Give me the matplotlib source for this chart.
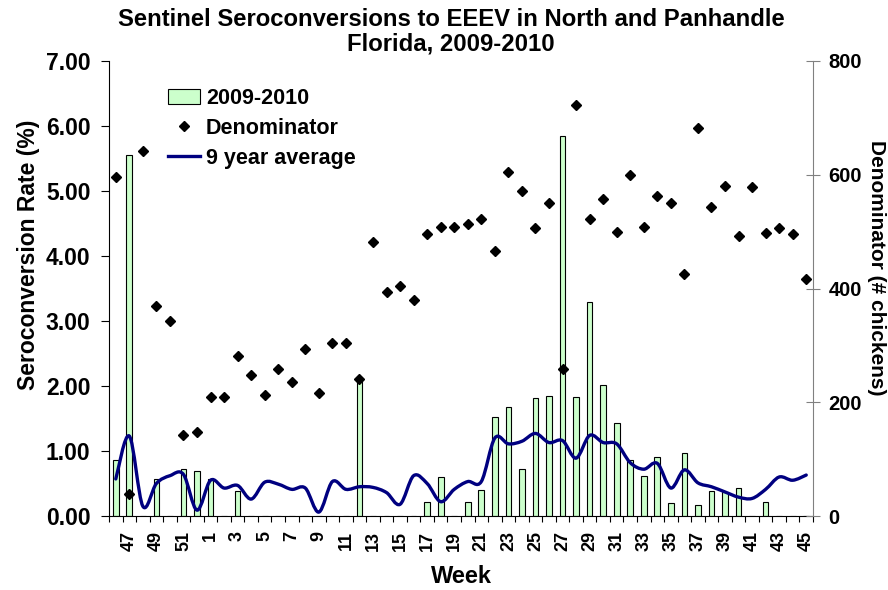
import matplotlib
matplotlib.use("Agg")
import matplotlib.pyplot as plt
from matplotlib.path import Path
from matplotlib.patches import PathPatch, Patch
from matplotlib.lines import Line2D

plt.rcParams['font.family'] = ['Liberation Sans', 'DejaVu Sans']
plt.rcParams['font.weight'] = 'bold'

WEEKS = [46, 47, 48, 49, 50, 51, 52, 1, 2, 3, 4, 5, 6, 7, 8, 9, 10, 11, 12, 13,
         14, 15, 16, 17, 18, 19, 20, 21, 22, 23, 24, 25, 26, 27, 28, 29, 30, 31,
         32, 33, 34, 35, 36, 37, 38, 39, 40, 41, 42, 43, 44, 45]

RATE_2009_2010 = [0.86, 5.56, 0, 0.57, 0, 0.73, 0.70, 0.57, 0, 0.38,
                  0, 0, 0, 0, 0, 0, 0, 0, 2.11, 0,
                  0, 0, 0, 0.22, 0.60, 0, 0.22, 0.40, 1.53, 1.68,
                  0.72, 1.81, 1.84, 5.85, 1.83, 3.30, 2.01, 1.43, 0.86, 0.61,
                  0.91, 0.20, 0.97, 0.17, 0.39, 0.37, 0.43, 0, 0.22, 0,
                  0, 0]

DENOMINATOR = [596, 38, 642, 369, 342, 143, 148, 210, 210, 282,
               248, 212, 258, 236, 294, 216, 305, 305, 241, 482,
               393, 404, 379, 496, 509, 509, 513, 523, 466, 605,
               571, 506, 551, 259, 723, 522, 557, 499, 599, 508,
               562, 550, 425, 682, 544, 581, 492, 578, 497, 506,
               496, 417]

AVG_9YR = [0.57, 1.23, 0.15, 0.50, 0.62, 0.64, 0.09, 0.55, 0.43, 0.47,
           0.26, 0.52, 0.49, 0.41, 0.43, 0.06, 0.53, 0.41, 0.45, 0.44,
           0.36, 0.18, 0.62, 0.50, 0.22, 0.41, 0.53, 0.53, 1.20, 1.11,
           1.15, 1.27, 1.13, 1.16, 0.89, 1.24, 1.13, 1.11, 0.82, 0.72,
           0.81, 0.43, 0.71, 0.51, 0.45, 0.37, 0.29, 0.27, 0.41, 0.60,
           0.55, 0.63]


def smooth_path(xs, ys):
    """Excel-style smoothed line as cubic bezier segments"""
    pts = list(zip(xs, ys))
    verts = [pts[0]]
    codes = [Path.MOVETO]
    n = len(pts)
    for i in range(n - 1):
        p0 = pts[max(i - 1, 0)]
        p1 = pts[i]
        p2 = pts[i + 1]
        p3 = pts[min(i + 2, n - 1)]
        c1 = (p1[0] + (p2[0] - p0[0]) / 6, p1[1] + (p2[1] - p0[1]) / 6)
        c2 = (p2[0] - (p3[0] - p1[0]) / 6, p2[1] - (p3[1] - p1[1]) / 6)
        verts += [c1, c2, p2]
        codes += [Path.CURVE4] * 3
    return Path(verts, codes)


fig = plt.figure(figsize=(8.88, 5.9), dpi=100)
ax = fig.add_axes([109 / 888, 1 - 516 / 590, 704 / 888, 455 / 590])
ax2 = ax.twinx()

x = list(range(len(WEEKS)))
bar_green = '#ccffcc'
navy = '#000080'

ax.bar(x, RATE_2009_2010, width=0.42, color=bar_green, edgecolor='black',
       linewidth=0.8, zorder=2)
line_patch = PathPatch(smooth_path(x, AVG_9YR), facecolor='none',
                       edgecolor=navy, linewidth=2.4, zorder=3,
                       capstyle='round', joinstyle='round')
ax.add_patch(line_patch)

ax2.plot(x, DENOMINATOR, linestyle='none', marker='D', markersize=5,
         color='black', zorder=4)

ax.set_xlim(-0.5, len(WEEKS) - 0.5)
ax.set_ylim(0, 7)
ax2.set_ylim(0, 800)

ax.set_yticks([0, 1, 2, 3, 4, 5, 6, 7])
ax.set_yticklabels(['{:.2f}'.format(v) for v in range(8)], fontsize=16.5,
                   fontweight='bold')
ax2.set_yticks([0, 200, 400, 600, 800])
ax2.set_yticklabels(['0', '200', '400', '600', '800'], fontsize=14.5,
                    fontweight='bold')

label_pos = [i for i, w in enumerate(WEEKS) if w % 2 == 1]
ax.set_xticks(label_pos)
ax.set_xticklabels([str(WEEKS[i]) for i in label_pos], rotation=90,
                   fontsize=13, fontweight='bold')
ax.set_xticks([i - 0.5 for i in range(len(WEEKS) + 1)], minor=True)
ax.tick_params(axis='x', which='major', length=0, pad=11)
ax.tick_params(axis='x', which='minor', length=4.5, direction='out', width=0.8)
ax.tick_params(axis='y', length=5.8, direction='out', width=0.8, pad=7.5)
ax2.tick_params(axis='y', length=9.6, direction='inout', width=0.8,
                color='#808080', pad=6.5)

ax.spines['top'].set_visible(False)
ax2.spines['top'].set_visible(False)
ax.spines['right'].set_visible(False)
ax2.spines['left'].set_visible(False)
ax2.spines['bottom'].set_visible(False)
ax2.spines['right'].set_color('#808080')

ax.set_xlabel('Week', fontsize=17, fontweight='bold', labelpad=10)
ax.set_ylabel('Seroconversion Rate (%)', fontsize=16.5, fontweight='bold',
              labelpad=4)
ax2.set_ylabel('Denominator (# chickens)', fontsize=15, fontweight='bold',
               rotation=270, labelpad=17)
# Excel puts the axis titles a bit above the middle
ax.yaxis.label.set_y(0.575)
ax2.yaxis.label.set_y(0.545)

fig.text(451 / 888, 1 - 32 / 590,
         'Sentinel Seroconversions to EEEV in North and Panhandle\nFlorida, 2009-2010',
         ha='center', va='center', fontsize=17.2, fontweight='bold',
         linespacing=1.1)

handles = [Patch(facecolor=bar_green, edgecolor='black', linewidth=0.8),
           Line2D([], [], linestyle='none', marker='D', markersize=5,
                  color='black'),
           Line2D([], [], color=navy, linewidth=2.4)]
ax2.legend(handles, ['2009-2010', 'Denominator', '9 year average'],
           loc='upper left', bbox_to_anchor=(0.084, 0.94), frameon=False,
           fontsize=15.5, handlelength=1.5, handletextpad=0.25,
           labelspacing=0.4, borderaxespad=0, borderpad=0)

fig.savefig('out.png', dpi=100)
